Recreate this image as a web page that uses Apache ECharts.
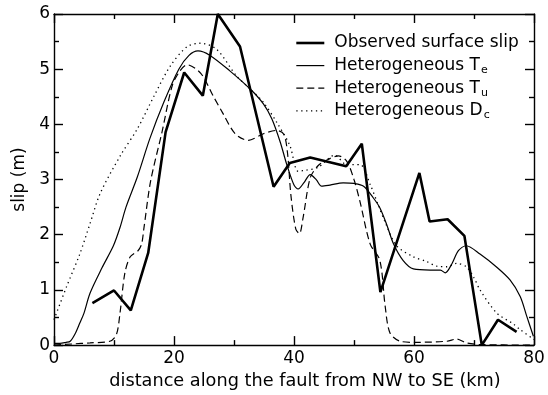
<!DOCTYPE html>
<html lang="en">
<head>
    <meta charset="UTF-8">
    <title>slip</title>
    <style>
        html, body { margin: 0; padding: 0; background: #fff; }
        #main { width: 548px; height: 395px; }
    </style>
</head>
<body>
<div id="main"></div>
<script src="https://cdn.jsdelivr.net/npm/echarts@6/dist/echarts.min.js"></script>
<script>
    // observed surface slip (km, m)
    var obsX = [6.4, 10, 12.8, 15.7, 18.6, 21.7, 24.8, 27.3, 31, 36.6, 39.3, 42.7, 48.7, 51.3, 54.4, 60.9, 62.6, 65.6, 68.4, 71.3, 74, 77.1];
    var obsY = [0.76, 0.99, 0.63, 1.67, 3.86, 4.94, 4.52, 6.0, 5.41, 2.87, 3.3, 3.4, 3.24, 3.65, 0.96, 3.12, 2.24, 2.28, 1.98, 0, 0.46, 0.24];

    // heterogeneous Te
    var teX = [0, 1, 2, 2.7, 3.5, 4.3, 5, 6, 8, 9.9, 11, 12, 13.9, 16, 18.3, 20.8, 22.5, 24, 26, 29.3, 32.7, 34.9, 36.3, 37.7, 38.8, 40, 40.7, 41.7, 42.7, 43.7, 44.6, 46, 48.2, 50, 51.6, 53.2, 54.3, 55.4, 56.6, 58.2, 59.9, 62.7, 64.4, 65.2, 66.3, 67.4, 68.7, 71, 73.8, 76, 77.7, 78.8, 79.9];
    var teY = [0.03, 0.03, 0.05, 0.07, 0.2, 0.4, 0.58, 0.94, 1.4, 1.8, 2.13, 2.5, 3.05, 3.75, 4.4, 5.0, 5.25, 5.33, 5.25, 4.97, 4.64, 4.37, 4.1, 3.68, 3.27, 2.9, 2.83, 2.95, 3.09, 3.0, 2.88, 2.9, 2.94, 2.93, 2.88, 2.67, 2.49, 2.2, 1.83, 1.53, 1.38, 1.36, 1.36, 1.31, 1.47, 1.71, 1.8, 1.65, 1.41, 1.18, 0.88, 0.52, 0.16];

    // heterogeneous Tu
    var tuX = [0, 3, 6, 9.3, 10.4, 11, 11.8, 12.7, 14, 14.6, 15, 16.1, 18, 19.7, 21, 22.2, 24.5, 26.5, 28.2, 30.2, 32.4, 34.9, 37.1, 38.3, 38.9, 39.5, 40.3, 40.9, 41.5, 42.7, 44, 45.4, 47.4, 48.8, 50, 51, 52.7, 54.3, 55.2, 56, 57.7, 60, 65.5, 67.1, 68.7, 71, 80];
    var tuY = [0, 0.02, 0.04, 0.07, 0.19, 0.58, 1.3, 1.6, 1.71, 1.83, 2.13, 2.97, 3.86, 4.7, 4.97, 5.08, 4.92, 4.52, 4.19, 3.83, 3.71, 3.83, 3.89, 3.82, 3.5, 2.7, 2.1, 2.02, 2.3, 3.03, 3.25, 3.35, 3.43, 3.33, 3.0, 2.6, 1.83, 1.54, 0.7, 0.22, 0.07, 0.05, 0.07, 0.11, 0.04, 0.01, 0];

    // heterogeneous Dc
    var dcX = [0, 2.1, 4.3, 6, 7.7, 11.1, 13.9, 16.7, 19.4, 22.2, 24.4, 27.1, 30.4, 32.7, 34.9, 37.1, 39.3, 40.7, 42, 44, 46.8, 48.8, 51, 52.7, 54, 55.3, 57.1, 59.9, 62, 63.8, 65.5, 67.1, 68.7, 70, 71, 73.8, 76.6, 77.7, 80];
    var dcY = [0.46, 1.06, 1.65, 2.2, 2.75, 3.44, 3.92, 4.52, 5.06, 5.41, 5.47, 5.36, 4.88, 4.64, 4.4, 4.04, 3.62, 3.15, 3.17, 3.22, 3.44, 3.27, 3.27, 2.91, 2.55, 2.2, 1.8, 1.6, 1.52, 1.43, 1.42, 1.48, 1.42, 1.22, 1.0, 0.58, 0.38, 0.28, 0.1];

    var xTicks = [0, 20, 40, 60, 80];
    var yTicks = [0, 1, 2, 3, 4, 5, 6];

    var legendText = {
        'Observed surface slip': 'Observed surface slip',
        'Heterogeneous Te': 'Heterogeneous T{sub|e}',
        'Heterogeneous Tu': 'Heterogeneous T{sub|u}',
        'Heterogeneous Dc': 'Heterogeneous D{sub|c}'
    };

    function zip(xs, ys) {
        var out = [];
        for (var i = 0; i < xs.length; i++) {
            out.push([xs[i], ys[i]]);
        }
        return out;
    }

    var font = 'DejaVu Sans, sans-serif';

    function lineOf(w, type) {
        var s = {color: '#000', width: w};
        if (type) s.type = type;
        return s;
    }

    // frame axis: ticks inside, labels only on the bottom / left ones
    function frameAxis(pos, max, interval, labels) {
        return {
            type: 'value', min: 0, max: max, interval: interval, position: pos,
            axisLine: {show: true, onZero: false, lineStyle: lineOf(1.4)},
            axisTick: {show: true, inside: true, length: 9, lineStyle: lineOf(1.4)},
            minorTick: {show: true, splitNumber: 2, length: 5, lineStyle: lineOf(1.4)},
            axisLabel: {
                show: true, fontFamily: font, fontSize: 17,
                color: labels ? '#000' : 'rgba(0,0,0,0)',
                margin: pos === 'left' ? 4 : 5,
                formatter: function (v) { return labels && labels.indexOf(v) >= 0 ? String(v) : ''; }
            },
            splitLine: {show: false}
        };
    }

    var xBottom = frameAxis('bottom', 80, 20, xTicks);
    xBottom.name = 'distance along the fault from NW to SE (km)';
    xBottom.nameLocation = 'middle';
    xBottom.nameGap = 26;
    xBottom.nameTextStyle = {fontFamily: font, fontSize: 17.7, color: '#000', padding: [0, 0, 0, 22]};

    var yLeft = frameAxis('left', 6, 1, yTicks);
    yLeft.name = 'slip (m)';
    yLeft.nameLocation = 'middle';
    yLeft.nameGap = 24;
    yLeft.nameRotate = 90;
    yLeft.nameTextStyle = {fontFamily: font, fontSize: 17, color: '#000'};

    var myChart = echarts.init(document.getElementById('main'));
    var option = {
        animation: false,
        grid: {left: 54, right: 14, top: 14, bottom: 46},
        legend: {
            orient: 'vertical',
            left: 295,
            top: 33,
            padding: 0,
            itemWidth: 28,
            itemHeight: 12,
            itemGap: 2.6,
            data: [
                {name: 'Observed surface slip', lineStyle: lineOf(2.6), itemStyle: {opacity: 0}},
                {name: 'Heterogeneous Te', lineStyle: lineOf(1.2), itemStyle: {opacity: 0}},
                {name: 'Heterogeneous Tu', lineStyle: lineOf(1.2, [7, 4]), itemStyle: {opacity: 0}},
                {name: 'Heterogeneous Dc', lineStyle: lineOf(1.3, [1.3, 3.6]), itemStyle: {opacity: 0}}
            ],
            formatter: function (name) { return legendText[name]; },
            textStyle: {
                fontFamily: font, fontSize: 17, color: '#000', lineHeight: 20,
                padding: [0, 0, 0, 5],
                rich: {
                    sub: {fontFamily: font, fontSize: 11, color: '#000', verticalAlign: 'bottom', lineHeight: 14, padding: [7, 0, 0, 1]}
                }
            }
        },
        xAxis: [xBottom, frameAxis('top', 80, 20, null)],
        yAxis: [yLeft, frameAxis('right', 6, 1, null)],
        series: [{
            name: 'Observed surface slip',
            type: 'line',
            data: zip(obsX, obsY),
            symbol: 'none',
            lineStyle: lineOf(2.6),
            itemStyle: {color: '#000'}
        }, {
            name: 'Heterogeneous Te',
            type: 'line',
            data: zip(teX, teY),
            symbol: 'none',
            smooth: 0.3,
            lineStyle: lineOf(1.2),
            itemStyle: {color: '#000'}
        }, {
            name: 'Heterogeneous Tu',
            type: 'line',
            data: zip(tuX, tuY),
            symbol: 'none',
            smooth: 0.3,
            lineStyle: lineOf(1.2, [7, 4]),
            itemStyle: {color: '#000'}
        }, {
            name: 'Heterogeneous Dc',
            type: 'line',
            xAxisIndex: 1,
            yAxisIndex: 1,
            data: zip(dcX, dcY),
            symbol: 'none',
            smooth: 0.3,
            lineStyle: lineOf(1.3, [1.3, 3.6]),
            itemStyle: {color: '#000'}
        }]
    };
    myChart.setOption(option);
</script>
</body>
</html>
